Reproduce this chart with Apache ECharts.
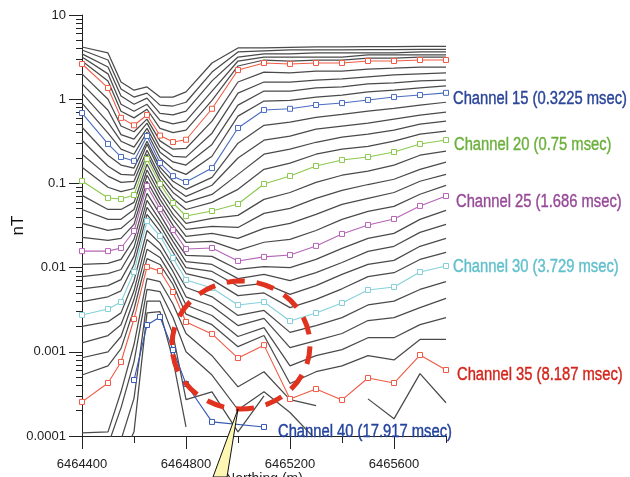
<!DOCTYPE html>
<html>
<head>
<meta charset="utf-8">
<script src="https://cdn.jsdelivr.net/npm/echarts@6/dist/echarts.min.js"></script>
<style>
  html, body { margin: 0; padding: 0; background: #fff; }
  #chart { width: 630px; height: 477px; }
</style>
</head>
<body>
<div id="chart"></div>
<script>
// sample positions along the line (m)
var northing = [6464400, 6464500, 6464550, 6464600, 6464650, 6464700, 6464750, 6464800, 6464900,
                6465000, 6465100, 6465200, 6465300, 6465400, 6465500, 6465600, 6465700, 6465800];

// decay values per channel (nT)
var ch05 = [4.17, 3.54, 1.60, 1.28, 1.40, 1.06, 1.06, 1.22, 2.69, 4.06, 4.06, 4.12, 4.17, 4.17, 4.2, 4.2, 4.25, 4.25];
var ch06 = [3.84, 2.92, 1.32, 1.06, 1.18, 0.85, 0.83, 0.92, 2.10, 3.64, 3.74, 3.84, 3.84, 3.84, 3.88, 3.88, 3.9, 3.9];
var ch07 = [3.45, 2.41, 1.09, 0.87, 1.03, 0.68, 0.65, 0.72, 1.65, 3.17, 3.45, 3.45, 3.54, 3.54, 3.54, 3.54, 3.64, 3.64];
var ch08 = [3.17, 2.00, 0.87, 0.72, 0.87, 0.56, 0.51, 0.55, 1.25, 2.84, 3.17, 3.17, 3.17, 3.17, 3.35, 3.35, 3.35, 3.35];
var ch09 = [2.84, 1.65, 0.72, 0.60, 0.76, 0.45, 0.40, 0.43, 0.97, 2.48, 2.92, 2.84, 2.92, 2.92, 3.08, 3.08, 3.17, 3.17];
var ch10 = [2.62, 1.36, 0.60, 0.49, 0.65, 0.37, 0.31, 0.33, 0.77, 2.22, 2.69, 2.62, 2.69, 2.69, 2.84, 2.84, 2.92, 2.92];
var ch11 = [2.00, 1.00, 0.48, 0.41, 0.58, 0.32, 0.255, 0.26, 0.55, 1.60, 2.10, 2.05, 2.16, 2.16, 2.28, 2.34, 2.41, 2.41];
var ch12 = [1.52, 0.74, 0.38, 0.335, 0.52, 0.27, 0.21, 0.205, 0.395, 1.18, 1.60, 1.60, 1.69, 1.74, 1.84, 1.94, 2.00, 2.05];
var ch13 = [1.18, 0.53, 0.317, 0.27, 0.45, 0.235, 0.18, 0.165, 0.29, 0.85, 1.25, 1.25, 1.36, 1.40, 1.52, 1.56, 1.65, 1.69];
var ch14 = [0.90, 0.395, 0.255, 0.222, 0.406, 0.20, 0.147, 0.128, 0.21, 0.63, 0.95, 0.97, 1.06, 1.12, 1.22, 1.28, 1.36, 1.44];
var ch15 = [0.685, 0.294, 0.206, 0.185, 0.366, 0.175, 0.122, 0.104, 0.152, 0.455, 0.745, 0.77, 0.853, 0.90, 0.98, 1.06, 1.12, 1.19];
var ch16 = [0.465, 0.216, 0.165, 0.152, 0.317, 0.156, 0.106, 0.085, 0.118, 0.30, 0.49, 0.533, 0.61, 0.66, 0.72, 0.78, 0.85, 0.92];
var ch17 = [0.326, 0.16, 0.128, 0.125, 0.292, 0.14, 0.09, 0.07, 0.095, 0.20, 0.326, 0.364, 0.44, 0.478, 0.52, 0.58, 0.646, 0.70];
var ch18 = [0.222, 0.122, 0.103, 0.106, 0.248, 0.122, 0.078, 0.0595, 0.074, 0.128, 0.222, 0.255, 0.308, 0.354, 0.384, 0.428, 0.505, 0.548];
var ch19 = [0.156, 0.09, 0.080, 0.087, 0.222, 0.109, 0.066, 0.049, 0.0595, 0.085, 0.147, 0.174, 0.222, 0.255, 0.276, 0.317, 0.384, 0.417];
var ch20 = [0.107, 0.0672, 0.0653, 0.0728, 0.195, 0.0984, 0.0585, 0.041, 0.047, 0.0569, 0.0984, 0.1225, 0.161, 0.19, 0.206, 0.236, 0.294, 0.327];
var ch21 = [0.072, 0.049, 0.049, 0.0595, 0.169, 0.085, 0.0505, 0.0335, 0.0384, 0.0417, 0.0646, 0.078, 0.103, 0.125, 0.14, 0.165, 0.216, 0.241];
var ch22 = [0.049, 0.0374, 0.0374, 0.049, 0.144, 0.0743, 0.0428, 0.0284, 0.0308, 0.030, 0.044, 0.0505, 0.0663, 0.0826, 0.097, 0.112, 0.147, 0.179];
var ch23 = [0.0335, 0.0276, 0.0292, 0.0395, 0.125, 0.0646, 0.0374, 0.0235, 0.0255, 0.0222, 0.0292, 0.0335, 0.0428, 0.0563, 0.0663, 0.078, 0.106, 0.128];
var ch24 = [0.0228, 0.021, 0.0222, 0.0326, 0.106, 0.0563, 0.0317, 0.020, 0.0205, 0.016, 0.020, 0.0216, 0.0276, 0.0374, 0.0465, 0.0533, 0.0743, 0.0947];
var ch25 = [0.0157, 0.0157, 0.0171, 0.0272, 0.0931, 0.0497, 0.028, 0.0166, 0.0171, 0.012, 0.0134, 0.0141, 0.0181, 0.0251, 0.0321, 0.0378, 0.054, 0.0708];
var ch26 = [0.0109, 0.0112, 0.0125, 0.0216, 0.0761, 0.0428, 0.0235, 0.014, 0.0136, 0.0095, 0.0103, 0.010, 0.0125, 0.0169, 0.0222, 0.0255, 0.0374, 0.0478];
var ch27 = [0.0078, 0.0085, 0.0095, 0.0174, 0.0628, 0.0364, 0.0205, 0.0118, 0.0109, 0.0074, 0.0083, 0.0070, 0.0087, 0.0115, 0.0156, 0.0179, 0.0262, 0.0326];
var ch28 = [0.0056, 0.0061, 0.0072, 0.0136, 0.0519, 0.0317, 0.0174, 0.010, 0.009, 0.006, 0.0065, 0.0048, 0.0061, 0.0083, 0.0109, 0.0122, 0.0179, 0.0222];
var ch29 = [0.00395, 0.0045, 0.0053, 0.0109, 0.0428, 0.0269, 0.0152, 0.0085, 0.0072, 0.00465, 0.005, 0.00335, 0.0042, 0.0056, 0.0078, 0.0087, 0.0125, 0.0152];
var ch30 = [0.00274, 0.00322, 0.0039, 0.00887, 0.0357, 0.0237, 0.013, 0.00713, 0.00573, 0.0036, 0.0039, 0.00232, 0.00289, 0.0038, 0.00542, 0.00589, 0.00887, 0.01045];
var ch31 = [0.0020, 0.00228, 0.0029, 0.0070, 0.0276, 0.0194, 0.0106, 0.0058, 0.0045, 0.0027, 0.0031, 0.0017, 0.00205, 0.00255, 0.0036, 0.0040, 0.0055, 0.0068];
var ch32 = [0.00128, 0.00156, 0.0021, 0.0053, 0.0216, 0.016, 0.009, 0.0045, 0.0035, 0.00205, 0.0025, 0.00112, 0.00136, 0.00165, 0.00235, 0.00255, 0.00335, 0.0043];
var ch33 = [0.00085, 0.0010, 0.00152, 0.0042, 0.0165, 0.0132, 0.0074, 0.0036, 0.0027, 0.00152, 0.00194, 0.00068, 0.0009, 0.00106, 0.00147, 0.00147, 0.0021, 0.00255];
var ch34 = [0.00053, 0.00068, 0.00109, 0.0032, 0.0128, 0.0109, 0.0063, 0.0028, 0.0021, 0.00115, 0.00156, 0.00042, 0.00058, 0.00068, 0.0009, 0.0008, 0.0014, 0.0014];
var ch35 = [0.000254, 0.000426, 0.000757, 0.00245, 0.0102, 0.00912, 0.00513, 0.00226, 0.00163, 0.000843, 0.0012, 0.000275, 0.000361, 0.000268, 0.000488, 0.000426, 0.000916, 0.000608];
var ch36 = [0.000109, 0.000112, 0.000335, 0.00122, 0.0074, 0.0068, 0.0037, 0.00165, 0.0009, 0.000384, 0.00058, 0.00027, 0.00023, null, 0.000276, 0.00016, 0.00055, 0.000248];
var ch37 = [0.000068, 0.000078, 0.000216, 0.00076, 0.0055, 0.0052, 0.00255, 0.0010, 0.00053, 0.000205, 0.000335, 0.00019, 0.00009, null, null, null, null, null];
var ch38 = [null, 0.00004, 0.00009, 0.00028, 0.0040, 0.0040, 0.0016, 0.00027, 0.000335, 0.000112, 0.0003, null, null, null, null, null, null, null];
var ch39 = [null, null, 0.000052, 0.000112, 0.0029, 0.0030, 0.0008, 0.000128, null, null, null, null, null, null, null, null, null, null];
var ch40 = [null, null, null, 0.000462, 0.00208, 0.00259, 0.00105, 0.000415, 0.000147, null, 0.000128, null, null, null, null, null, null, null];

var xTickValues = [6464400, 6464800, 6465200, 6465600];
var yMin = 0.0001, yMax = 10;

var greyChannels = [ch05, ch06, ch07, ch08, ch09, ch11, ch12, ch13, ch14, ch16, ch17, ch18, ch19,
                    ch21, ch22, ch23, ch24, ch26, ch27, ch28, ch29, ch31, ch32, ch33, ch34,
                    ch36, ch37, ch38, ch39];

var shownChannels = [
  { data: ch10, line: '#ef5c46', text: null },
  { data: ch15, line: '#4a6cc0', text: 'Channel 15 (0.3225 msec)', textColor: '#2a4599', dx: 7, dy: 6 },
  { data: ch20, line: '#8dc850', text: 'Channel 20 (0.75 msec)', textColor: '#6cb03c', dx: 8, dy: 5 },
  { data: ch25, line: '#b565b5', text: 'Channel 25 (1.686 msec)', textColor: '#974a97', dx: 10, dy: 6 },
  { data: ch30, line: '#85d0da', text: 'Channel 30 (3.729 msec)', textColor: '#62c0cd', dx: 7, dy: 1 },
  { data: ch35, line: '#ee5a44', text: 'Channel 35 (8.187 msec)', textColor: '#d3251b', dx: 11, dy: 5 },
  { data: ch40, line: '#3558b0', text: 'Channel 40 (17.917 msec)', textColor: '#23439e', dx: 14, dy: 5 }
];

// minor ticks of the log axis
var yMinorTicks = [];
for (var e = -4; e < 1; e++) {
  for (var m = 2; m <= 9; m++) yMinorTicks.push(+(m * Math.pow(10, e)).toPrecision(2));
}

function pairs(arr) {
  var out = arr.map(function (v, i) { return [northing[i], v]; });
  while (out.length && out[out.length - 1][1] == null) out.pop();
  return out;
}

var labelFont = 'Liberation Sans, Arial, sans-serif';

var series = [];
greyChannels.forEach(function (d) {
  series.push({
    type: 'line',
    data: pairs(d),
    symbol: 'none',
    silent: true,
    z: 2,
    lineStyle: { color: '#4a4a4a', width: 1.25 }
  });
});
shownChannels.forEach(function (c) {
  series.push({
    type: 'line',
    data: pairs(c.data),
    symbol: 'rect',
    symbolSize: 5,
    showAllSymbol: true,
    connectNulls: true,
    silent: true,
    z: 3,
    itemStyle: { color: '#fff', borderColor: c.line, borderWidth: 1 },
    lineStyle: { color: c.line, width: 1.1 }
  });
});

var chart = echarts.init(document.getElementById('chart'));
chart.setOption({
  animation: false,
  grid: { left: 82, top: 15, width: 364, height: 421, containLabel: false, outerBoundsMode: 'none' },
  xAxis: [{
    type: 'value',
    position: 'bottom',
    min: 6464400,
    max: 6465800,
    name: 'Northing (m)',
    nameLocation: 'middle',
    nameGap: 36,
    nameMoveOverlap: false,
    nameTextStyle: { fontFamily: labelFont, fontSize: 14, color: '#222' },
    axisLine: { lineStyle: { color: '#222' } },
    axisTick: { customValues: xTickValues, length: 13, lineStyle: { color: '#222' } },
    axisLabel: {
      customValues: xTickValues, fontFamily: labelFont, fontSize: 13, color: '#222', margin: 22,
      formatter: function (v) { return String(v); }
    },
    splitLine: { show: false }
  }, {
    type: 'value',
    position: 'bottom',
    min: 6464400,
    max: 6465800,
    interval: 200,
    axisLine: { show: false },
    axisTick: { length: 7, lineStyle: { color: '#222' } },
    axisLabel: { show: false },
    splitLine: { show: false }
  }],
  yAxis: [{
    type: 'log',
    logBase: 10,
    position: 'left',
    min: yMin,
    max: yMax,
    name: 'nT',
    nameLocation: 'middle',
    nameGap: 55,
    nameMoveOverlap: false,
    nameTextStyle: { fontFamily: labelFont, fontSize: 17, color: '#111' },
    axisLine: { show: true, lineStyle: { color: '#222' } },
    axisTick: { length: 13, lineStyle: { color: '#222' } },
    axisLabel: {
      fontFamily: labelFont, fontSize: 13, color: '#222', margin: 16,
      formatter: function (v) { return String(+Number(v).toPrecision(2)); }
    },
    splitLine: { show: false }
  }, {
    type: 'log',
    logBase: 10,
    position: 'left',
    min: yMin,
    max: yMax,
    axisLine: { show: false },
    axisTick: { customValues: yMinorTicks, length: 6, lineStyle: { color: '#222' } },
    axisLabel: { show: false },
    splitLine: { show: false }
  }],
  series: series
});

// channel tags placed at the end of each labelled line, in a condensed face
var graphics = [];
shownChannels.forEach(function (c) {
  if (!c.text) return;
  var p = pairs(c.data);
  var last = p[p.length - 1];
  var px = chart.convertToPixel({ xAxisIndex: 0, yAxisIndex: 0 }, last);
  graphics.push({
    type: 'text',
    x: px[0] + c.dx,
    y: px[1] + c.dy,
    scaleX: 0.82,
    z: 12,
    style: {
      text: c.text,
      fill: c.textColor,
      font: '18px Liberation Sans, Arial, sans-serif',
      textVerticalAlign: 'middle',
      verticalAlign: 'middle',
      stroke: c.textColor,
      lineWidth: 0.4
    }
  });
});
graphics.push({
  type: 'ellipse',
  shape: { cx: 241, cy: 345, rx: 69, ry: 64 },
  style: { fill: 'none', stroke: '#e0321f', lineWidth: 5, lineDash: [18, 12] },
  z: 10
});
graphics.push({
  type: 'polygon',
  shape: { points: [[238, 409], [213, 477], [227, 477]] },
  style: { fill: '#fdf7b3', stroke: '#111', lineWidth: 1 },
  z: 11
});
chart.setOption({ graphic: graphics });
</script>
</body>
</html>
